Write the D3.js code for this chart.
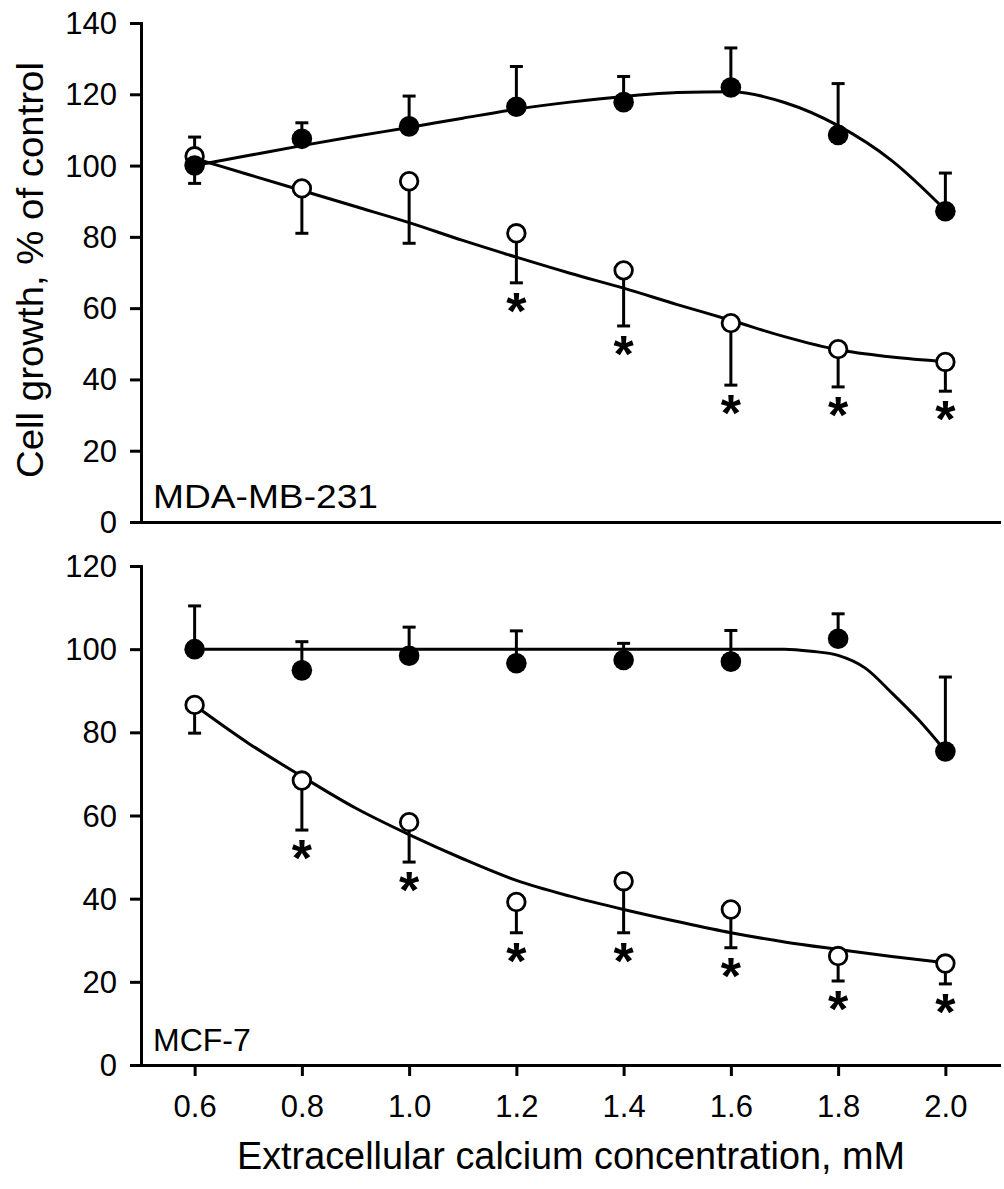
<!DOCTYPE html>
<html><head><meta charset="utf-8">
<script src="https://cdn.jsdelivr.net/npm/d3@7"></script>
<style>
body{margin:0;background:#fff}
text{font-family:"Liberation Sans",Arial,Helvetica,sans-serif;fill:#000}
</style>
</head><body>
<svg id="chart" width="1004" height="1189"></svg>
<script>
// ---------- data ----------
const conc = [0.6, 0.8, 1.0, 1.2, 1.4, 1.6, 1.8, 2.0];
const xTickLabels = ["0.6", "0.8", "1.0", "1.2", "1.4", "1.6", "1.8", "2.0"];
const topYTicks = [0, 20, 40, 60, 80, 100, 120, 140];
const botYTicks = [0, 20, 40, 60, 80, 100, 120];
const topPanelLabel = "MDA-MB-231";
const botPanelLabel = "MCF-7";
const xTitle = "Extracellular calcium concentration, mM";
const yTitle = "Cell growth, % of control";

// MDA-MB-231 (top)
const mdaFilled    = [100, 107.5, 111, 116.5, 117.8, 121.9, 108.6, 87.2];
const mdaFilledErr = [95, 112, 119.5, 127.8, 125, 133, 123, 97.9];
const mdaOpen      = [102.6, 93.6, 95.6, 81, 70.6, 55.8, 48.5, 44.9];
const mdaOpenErr   = [108, 81, 78.2, 67.1, 55, 38.4, 37.9, 36.7];
const mdaStars     = [false, false, false, true, true, true, true, true];
const mdaFitX      = [0.6, 0.7, 0.8, 0.9, 1.0, 1.1, 1.2, 1.3, 1.4, 1.5, 1.6, 1.7, 1.8, 1.9, 2.0];
const mdaFilledFit = [100, 102.8, 105.6, 108.2, 110.7, 113.3, 115.8, 117.8, 119.4, 120.5, 120.7, 117.7, 111.2, 101.4, 87.5];
const mdaOpenFit   = [102, 97.5, 93, 88.5, 84, 79, 74.3, 69.8, 65.6, 61, 56.6, 52, 48.3, 46.3, 45];

// MCF-7 (bottom)
const mcfFilled    = [100, 94.9, 98.4, 96.6, 97.4, 97.0, 102.5, 75.4];
const mcfFilledErr = [110.4, 101.8, 105.3, 104.4, 101.4, 104.5, 108.5, 93.3];
const mcfOpen      = [86.6, 68.4, 58.4, 39.2, 44.2, 37.4, 26.2, 24.4];
const mcfOpenErr   = [79.8, 56.5, 48.8, 31.8, 31.8, 28.2, 20.2, 19.5];
const mcfStars     = [false, true, true, true, true, true, true, true];
const mcfFilledFitX = [0.6, 0.8, 1.0, 1.2, 1.4, 1.6, 1.7, 1.75, 1.8, 1.85, 1.9, 1.95, 2.0];
const mcfFilledFit  = [100, 100, 100, 100, 100, 100, 100, 99.5, 98.5, 95.5, 89.5, 83, 75.5];
const mcfOpenFitX   = [0.6, 0.7, 0.8, 0.9, 1.0, 1.1, 1.2, 1.3, 1.4, 1.5, 1.6, 1.7, 1.8, 1.9, 2.0];
const mcfOpenFit    = [86.5, 77.4, 69.4, 61.8, 55.4, 49.6, 44.4, 40.6, 37.4, 34.5, 31.8, 29.6, 27.8, 26.1, 24.6];

// ---------- drawing ----------
const svg = d3.select("#chart");
const x = d3.scaleLinear().domain([0.5, 2.1]).range([141, 999]);
const SW = 3;

function drawPanel(o) {
  const y = d3.scaleLinear().domain(o.yDomain).range(o.yRange);
  const g = svg.append("g");

  // y axis
  const ya = g.append("g").attr("transform", `translate(${x.range()[0]},0)`)
    .call(d3.axisLeft(y).tickValues(o.yTicks).tickSize(11).tickSizeOuter(0).tickPadding(13).tickFormat(d3.format("d")));
  ya.selectAll("path,line").attr("stroke", "#000").attr("stroke-width", SW);
  ya.select(".domain").attr("stroke-linecap", "square");
  ya.selectAll("text").attr("font-size", 31).attr("font-family", null).attr("dy", "0.34em");

  // x axis
  const xa = g.append("g").attr("transform", `translate(0,${o.yRange[0]})`)
    .call(o.showX
      ? d3.axisBottom(x).tickValues(conc).tickSize(11).tickSizeOuter(0).tickPadding(19).tickFormat((d, i) => xTickLabels[i])
      : d3.axisBottom(x).tickValues([]).tickSizeOuter(0));
  xa.selectAll("path,line").attr("stroke", "#000").attr("stroke-width", SW);
  xa.select(".domain").attr("stroke-linecap", "square");
  xa.selectAll("text").attr("font-size", 31).attr("font-family", null);

  // fitted curves
  const line = d3.line().x(d => x(d[0])).y(d => y(d[1])).curve(d3.curveMonotoneX);
  [[o.filledFitX, o.filledFit], [o.openFitX, o.openFit]].forEach(([fx, fy]) => {
    g.append("path").datum(fx.map((v, i) => [v, fy[i]]))
      .attr("d", line).attr("fill", "none").attr("stroke", "#000").attr("stroke-width", SW);
  });

  // error bars
  function errBars(vals, errs) {
    const eg = g.append("g").attr("stroke", "#000").attr("stroke-width", SW);
    conc.forEach((c, i) => {
      eg.append("line").attr("x1", x(c)).attr("x2", x(c)).attr("y1", y(vals[i])).attr("y2", y(errs[i]));
      eg.append("line").attr("x1", x(c) - 6.5).attr("x2", x(c) + 6.5).attr("y1", y(errs[i])).attr("y2", y(errs[i]));
    });
  }
  errBars(o.open, o.openErr);
  errBars(o.filled, o.filledErr);

  // points: open first, then filled
  g.append("g").selectAll("circle").data(o.open).join("circle")
    .attr("cx", (d, i) => x(conc[i])).attr("cy", d => y(d)).attr("r", 8.8)
    .attr("fill", "#fff").attr("stroke", "#000").attr("stroke-width", 2.8);
  g.append("g").selectAll("circle").data(o.filled).join("circle")
    .attr("cx", (d, i) => x(conc[i])).attr("cy", d => y(d)).attr("r", 10.3)
    .attr("fill", "#000");

  // significance stars
  g.append("g").selectAll("text").data(conc.filter((c, i) => o.stars[i]))
    .join("text")
    .attr("x", c => x(c))
    .attr("y", c => y(o.openErr[conc.indexOf(c)]) + 46)
    .attr("text-anchor", "middle").attr("font-size", 52).attr("font-weight", "bold")
    .text("*");

  // panel label
  const lab = g.append("text").attr("x", 153).attr("y", o.labelY).attr("font-size", o.labelSize).text(o.label);
  if (o.labelLen) lab.attr("textLength", o.labelLen).attr("lengthAdjust", "spacingAndGlyphs");
  return y;
}

drawPanel({
  yDomain: [0, 140], yRange: [522, 23], yTicks: topYTicks, showX: false,
  filled: mdaFilled, filledErr: mdaFilledErr, open: mdaOpen, openErr: mdaOpenErr, stars: mdaStars,
  filledFitX: mdaFitX, filledFit: mdaFilledFit, openFitX: mdaFitX, openFit: mdaOpenFit,
  label: topPanelLabel, labelY: 508, labelSize: 34, labelLen: 225
});
drawPanel({
  yDomain: [0, 120], yRange: [1065, 566], yTicks: botYTicks, showX: true,
  filled: mcfFilled, filledErr: mcfFilledErr, open: mcfOpen, openErr: mcfOpenErr, stars: mcfStars,
  filledFitX: mcfFilledFitX, filledFit: mcfFilledFit, openFitX: mcfOpenFitX, openFit: mcfOpenFit,
  label: botPanelLabel, labelY: 1051, labelSize: 32, labelLen: null
});

// axis titles
svg.append("text").attr("x", 571).attr("y", 1169).attr("text-anchor", "middle")
  .attr("font-size", 38).attr("textLength", 668).attr("lengthAdjust", "spacingAndGlyphs").text(xTitle);
svg.append("text").attr("transform", "translate(43,270) rotate(-90)").attr("text-anchor", "middle")
  .attr("font-size", 36).attr("textLength", 416).attr("lengthAdjust", "spacingAndGlyphs").text(yTitle);
</script>
</body></html>
